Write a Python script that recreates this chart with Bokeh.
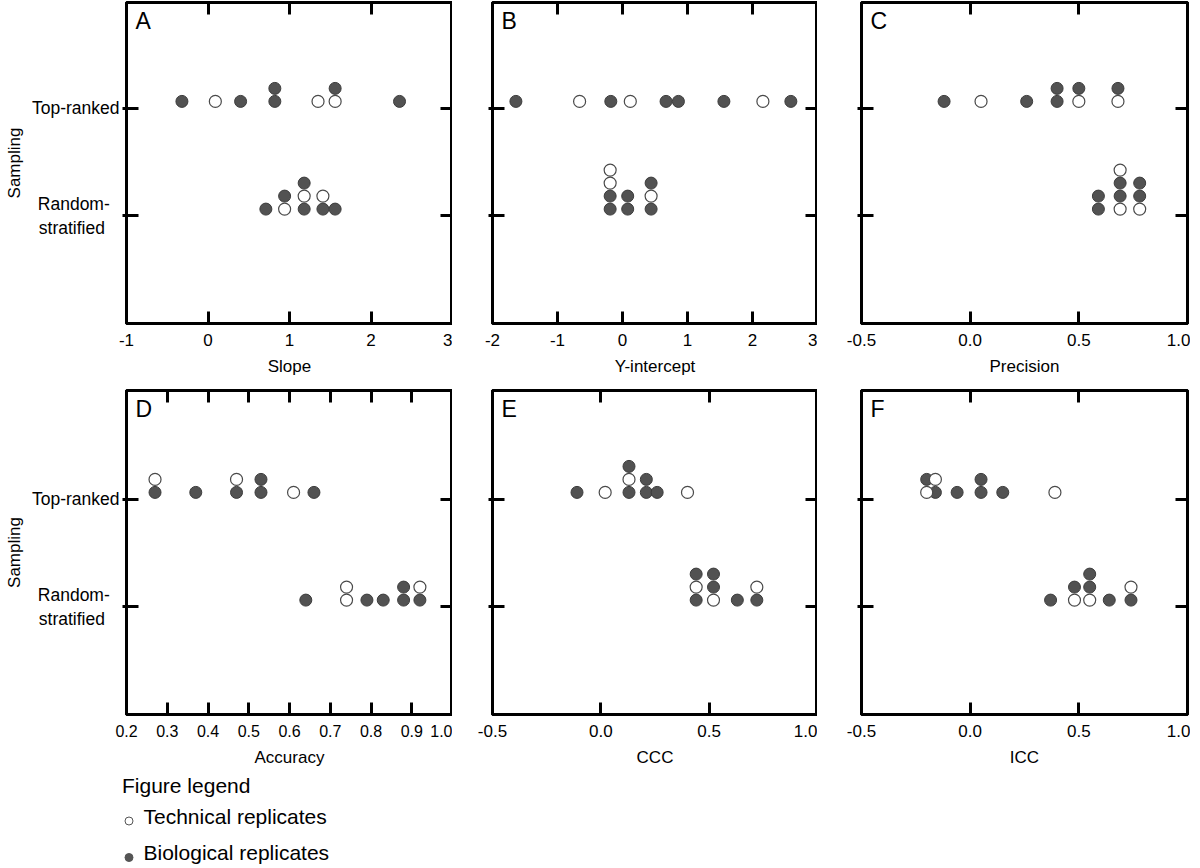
from bokeh.plotting import figure
from bokeh.layouts import column, row
from bokeh.models import Label, LinearAxis, FixedTicker, Range1d
from bokeh.embed import file_html
from bokeh.resources import INLINE

# ---------------- data ----------------
category_ticks = [1, 2]
category_labels = ["Random-  \nstratified   ", "Top-ranked"]

# kinds: "T" = technical replicate (open), "B" = biological replicate (filled)
slope_top_vals = [-0.32, 0.09, 0.40, 0.82, 0.82, 1.35, 1.56, 1.56, 2.35]
slope_top_kind = ["B", "T", "B", "B", "B", "T", "T", "B", "B"]
slope_rand_vals = [0.71, 0.94, 0.94, 1.18, 1.18, 1.18, 1.41, 1.41, 1.56]
slope_rand_kind = ["B", "T", "B", "B", "T", "B", "B", "T", "B"]

yint_top_vals = [-1.64, -0.66, -0.18, 0.12, 0.67, 0.86, 1.56, 2.16, 2.59]
yint_top_kind = ["B", "T", "B", "T", "B", "B", "B", "T", "B"]
yint_rand_vals = [-0.19, -0.19, -0.19, -0.19, 0.08, 0.08, 0.44, 0.44, 0.44]
yint_rand_kind = ["B", "B", "T", "T", "B", "B", "B", "T", "B"]

prec_top_vals = [-0.12, 0.05, 0.26, 0.40, 0.40, 0.50, 0.50, 0.68, 0.68]
prec_top_kind = ["B", "T", "B", "B", "B", "T", "B", "T", "B"]
prec_rand_vals = [0.59, 0.59, 0.69, 0.69, 0.69, 0.69, 0.78, 0.78, 0.78]
prec_rand_kind = ["B", "B", "T", "B", "B", "T", "T", "B", "B"]

acc_top_vals = [0.27, 0.27, 0.37, 0.47, 0.47, 0.53, 0.53, 0.61, 0.66]
acc_top_kind = ["B", "T", "B", "B", "T", "B", "B", "T", "B"]
acc_rand_vals = [0.64, 0.74, 0.74, 0.79, 0.83, 0.88, 0.88, 0.92, 0.92]
acc_rand_kind = ["B", "T", "T", "B", "B", "B", "B", "B", "T"]

ccc_top_vals = [-0.11, 0.02, 0.13, 0.13, 0.13, 0.21, 0.21, 0.26, 0.40]
ccc_top_kind = ["B", "T", "B", "T", "B", "B", "B", "B", "T"]
ccc_rand_vals = [0.44, 0.44, 0.44, 0.52, 0.52, 0.52, 0.63, 0.72, 0.72]
ccc_rand_kind = ["B", "T", "B", "T", "B", "B", "B", "B", "T"]

icc_top_vals = [-0.20, -0.20, -0.16, -0.16, -0.06, 0.05, 0.05, 0.15, 0.39]
icc_top_kind = ["T", "B", "B", "T", "B", "B", "B", "B", "T"]
icc_rand_vals = [0.37, 0.48, 0.48, 0.55, 0.55, 0.55, 0.64, 0.74, 0.74]
icc_rand_kind = ["B", "T", "B", "T", "B", "B", "B", "B", "T"]

ticks_slope = [-1, 0, 1, 2, 3]
ticks_yint = [-2, -1, 0, 1, 2, 3]
ticks_half = [-0.5, 0.0, 0.5, 1.0]
ticks_acc = [0.2, 0.3, 0.4, 0.5, 0.6, 0.7, 0.8, 0.9, 1.0]

legend_title = "Figure legend"
legend_tech = "Technical replicates"
legend_bio = "Biological replicates"

# ---------------- styling ----------------
FONT = "Liberation Sans"
FILL_DARK = "#525252"
LINE_DARK = "#3c3c3c"
STEP_PX = 13.0
BASE_PX = 6.7
DOT = 12
PPU = 107.7


def stacked(vals, kinds, cat, px_per_unit):
    seen = {}
    out = {"T": ([], []), "B": ([], [])}
    for v, k in zip(vals, kinds):
        lvl = seen.get(v, 0)
        seen[v] = lvl + 1
        out[k][0].append(v)
        out[k][1].append(cat + (BASE_PX + lvl * STEP_PX) / px_per_unit)
    return out


def style_axis(ax, labels=True, size="17px"):
    ax.axis_line_width = 3
    ax.axis_line_color = "black"
    ax.major_tick_in = 12
    ax.major_tick_out = 0
    ax.major_tick_line_width = 3
    ax.major_tick_line_color = "black"
    ax.minor_tick_line_color = None
    ax.major_label_text_font = FONT
    ax.major_label_text_color = "black"
    ax.axis_label_text_font = FONT
    ax.axis_label_text_font_style = "normal"
    ax.axis_label_text_font_size = "17px"
    ax.axis_label_text_color = "black"
    if labels:
        ax.major_label_text_font_size = size
    else:
        ax.major_label_text_font_size = "0px"
        ax.major_label_text_color = None
        ax.major_label_standoff = 0


def panel(letter, xlabel, xr, xticks, fmt, top, rand, fw, fh,
          mb_left, mb_right, mb_top, mb_bottom, ylabels,
          label_size="17px", lab_standoff=8, title_standoff=7):
    ymax = fh / PPU
    p = figure(frame_width=fw, frame_height=fh,
               x_range=Range1d(xr[0], xr[1]), y_range=Range1d(0, ymax),
               x_axis_type=None, y_axis_type=None,
               output_backend="svg", toolbar_location=None,
               min_border_left=mb_left, min_border_right=mb_right,
               min_border_top=mb_top, min_border_bottom=mb_bottom)
    p.outline_line_color = "black"
    p.outline_line_width = 3
    p.background_fill_color = "white"
    p.border_fill_color = "white"

    over = {t: fmt(t) for t in xticks}
    bx = LinearAxis(ticker=FixedTicker(ticks=xticks), axis_label=xlabel,
                    major_label_overrides=over)
    style_axis(bx, True, label_size)
    bx.major_label_standoff = lab_standoff
    bx.axis_label_standoff = title_standoff
    p.add_layout(bx, "below")
    tx = LinearAxis(ticker=FixedTicker(ticks=xticks))
    style_axis(tx, False)
    p.add_layout(tx, "above")

    ly = LinearAxis(ticker=FixedTicker(ticks=category_ticks),
                    major_label_overrides={c: l for c, l in zip(category_ticks, category_labels)})
    if ylabels:
        style_axis(ly, True, "17.5px")
        ly.axis_label = "Sampling"
        ly.major_label_standoff = 3
        ly.axis_label_standoff = 5
    else:
        style_axis(ly, False)
    ly.major_tick_out = 4
    p.add_layout(ly, "left")
    ry = LinearAxis(ticker=FixedTicker(ticks=category_ticks))
    style_axis(ry, False)
    p.add_layout(ry, "right")

    for cat, (vals, kinds) in zip(category_ticks, [rand, top]):
        st = stacked(vals, kinds, cat, PPU)
        p.scatter(st["B"][0], st["B"][1], size=DOT, fill_color=FILL_DARK,
                  line_color=LINE_DARK, line_width=1)
        p.scatter(st["T"][0], st["T"][1], size=DOT, fill_color="white",
                  line_color="#4a4a4a", line_width=1.2)

    dx = (xr[1] - xr[0]) / fw
    p.add_layout(Label(x=xr[0] + 9 * dx, y=ymax - 5 / PPU, text=letter,
                       text_font=FONT, text_font_size="23px", text_baseline="top",
                       text_color="black"))
    return p


fmt_int = lambda t: f"{t:g}"
fmt_1 = lambda t: f"{t:.1f}"

FH1 = 321
FH2 = 324
R1 = dict(mb_top=2, mb_bottom=62, lab_standoff=10, title_standoff=8)
R2 = dict(mb_top=5, mb_bottom=50, lab_standoff=10, title_standoff=8)

pA = panel("A", "Slope", (-1, 3), ticks_slope, fmt_int,
           (slope_top_vals, slope_top_kind), (slope_rand_vals, slope_rand_kind),
           326, FH1, 126, 0, ylabels=True, **R1)
pB = panel("B", "Y-intercept", (-2, 3), ticks_yint, fmt_int,
           (yint_top_vals, yint_top_kind), (yint_rand_vals, yint_rand_kind),
           325, FH1, 40, 0, ylabels=False, **R1)
pC = panel("C", "Precision", (-0.5, 1.0), ticks_half, fmt_1,
           (prec_top_vals, prec_top_kind), (prec_rand_vals, prec_rand_kind),
           326, FH1, 44, 3, ylabels=False, **R1)

pD = panel("D", "Accuracy", (0.2, 1.0), ticks_acc, fmt_1,
           (acc_top_vals, acc_top_kind), (acc_rand_vals, acc_rand_kind),
           326, FH2, 126, 0, ylabels=True, label_size="16px", **R2)
pE = panel("E", "CCC", (-0.5, 1.0), ticks_half, fmt_1,
           (ccc_top_vals, ccc_top_kind), (ccc_rand_vals, ccc_rand_kind),
           325, FH2, 40, 0, ylabels=False, **R2)
pF = panel("F", "ICC", (-0.5, 1.0), ticks_half, fmt_1,
           (icc_top_vals, icc_top_kind), (icc_rand_vals, icc_rand_kind),
           326, FH2, 44, 3, ylabels=False, **R2)

# ---------------- legend strip ----------------
LW, LH = 400, 99
pL = figure(width=LW, height=LH, x_range=Range1d(0, LW), y_range=Range1d(LH, 0),
            x_axis_type=None, y_axis_type=None, output_backend="svg",
            toolbar_location=None, min_border=0)
pL.outline_line_color = None
pL.background_fill_color = "white"
pL.border_fill_color = "white"

pL.add_layout(Label(x=121.5, y=27, text=legend_title, text_font=FONT,
                    text_font_size="21px", text_color="black"))
pL.add_layout(Label(x=143, y=58, text=legend_tech, text_font=FONT,
                    text_font_size="21px", text_color="black"))
pL.add_layout(Label(x=143, y=94, text=legend_bio, text_font=FONT,
                    text_font_size="21px", text_color="black"))
pL.scatter([128.5], [51.5], size=8, fill_color="white", line_color="#555555", line_width=1)
pL.scatter([128.5], [88], size=8, fill_color="#555555", line_color="#555555", line_width=1)

layout = column(row(pA, pB, pC, spacing=0), row(pD, pE, pF, spacing=0), pL, spacing=0)

open("out.html", "w").write(file_html(layout, INLINE))
